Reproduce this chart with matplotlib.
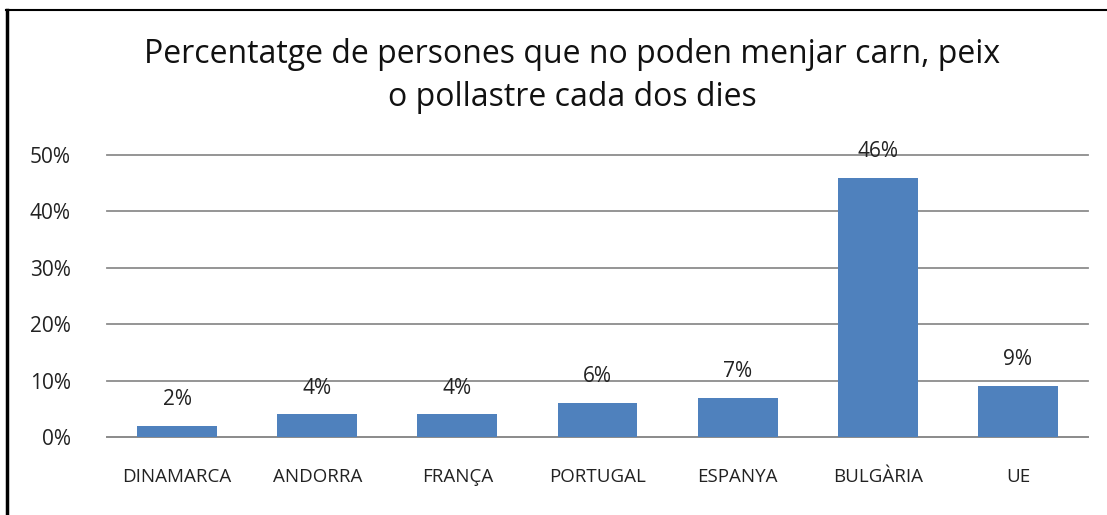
import matplotlib as mpl
mpl.use('Agg')
import matplotlib.pyplot as plt
from matplotlib.lines import Line2D
import numpy as np

countries = ['DINAMARCA', 'ANDORRA', 'FRANÇA', 'PORTUGAL', 'ESPANYA', 'BULGÀRIA', 'UE']
values = [2, 4, 4, 6, 7, 46, 9]
yticks = [0, 10, 20, 30, 40, 50]

plt.rcParams['font.family'] = ['Open Sans', 'DejaVu Sans']

W, H = 1107, 515
fig = plt.figure(figsize=(W / 100, H / 100), dpi=100)
ax = fig.add_axes([107 / W, 1 - 437 / H, (1088 - 107) / W, (437 - 155) / H])

x = np.arange(len(countries))
ax.bar(x, values, width=0.57, color='#4f81bd', zorder=3)
for xi, v in zip(x, values):
    ax.text(xi, v + 2.8, f'{v}%', ha='center', va='bottom', fontsize=15, color='#222222', zorder=5)

ax.set_xlim(-0.5, len(countries) - 0.5)
ax.set_ylim(0, 50)
ax.set_yticks(yticks)
ax.set_yticklabels([f'{t}%' for t in yticks], fontsize=15, color='#222222')
ax.set_xticks(x)
ax.set_xticklabels(countries, fontsize=13.5, color='#222222')
ax.tick_params(length=0)
ax.tick_params(axis='y', pad=26)
ax.tick_params(axis='x', pad=22)
ax.grid(axis='y', color='#8c8c8c', linewidth=1.3, zorder=0)
for gl in ax.get_ygridlines():
    gl.set_clip_on(False)
for s in ['top', 'right', 'left']:
    ax.spines[s].set_visible(False)
ax.spines['bottom'].set_color('#8c8c8c')
ax.spines['bottom'].set_linewidth(1.3)

fig.text(572 / W, 1 - 76 / H, 'Percentatge de persones que no poden menjar carn, peix\no pollastre cada dos dies',
         ha='center', va='center', fontsize=23, linespacing=1.4, color='#111111')

# outer border (left and top only)
fig.add_artist(Line2D([7 / W, 7 / W], [0, 1 - 10 / H], transform=fig.transFigure, color='black', linewidth=2.5))
fig.add_artist(Line2D([6 / W, 1], [1 - 10 / H, 1 - 10 / H], transform=fig.transFigure, color='black', linewidth=1.5))

fig.savefig('out.png', dpi=100)
